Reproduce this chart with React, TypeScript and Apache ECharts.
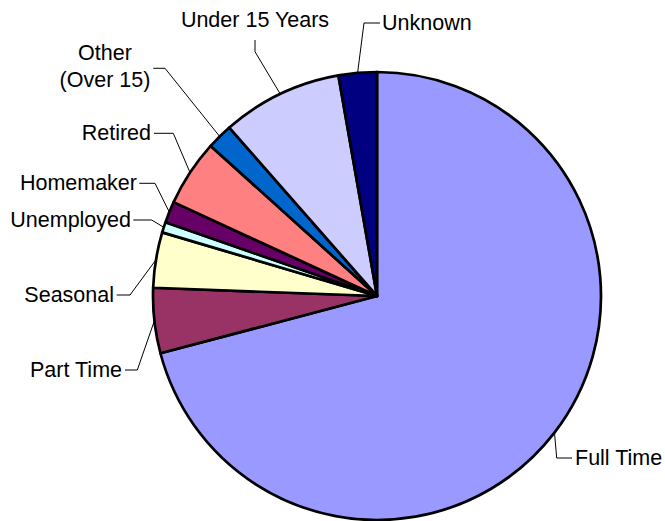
import React, { useEffect, useRef } from "react";
import * as echarts from "echarts";

const categories = [
  "Full Time",
  "Part Time",
  "Seasonal",
  "Unemployed",
  "Homemaker",
  "Retired",
  "Other\n(Over 15)",
  "Under 15 Years",
  "Unknown",
];
const values = [70.9, 4.7, 4.0, 0.75, 1.55, 4.8, 1.86, 8.7, 2.76];
const colors = [
  "#9999FF",
  "#993366",
  "#FFFFCC",
  "#CCFFFF",
  "#660066",
  "#FF8080",
  "#0066CC",
  "#CCCCFF",
  "#000080",
];

// label placement (text anchor + leader-line bend/end), pixel layout
type LP = { tx: number; ty: number; align: string; bend: number[]; end: number[] };
const labelPlacement: LP[] = [
  { tx: 575, ty: 458, align: "left", bend: [556.7, 458], end: [572, 458] },
  { tx: 122, ty: 370, align: "right", bend: [137.3, 370], end: [125, 370] },
  { tx: 114, ty: 295, align: "right", bend: [130, 295], end: [116.7, 295] },
  { tx: 131, ty: 220, align: "right", bend: [151.7, 220], end: [133.3, 220] },
  { tx: 137, ty: 183.3, align: "right", bend: [155, 183.3], end: [139.3, 183.3] },
  { tx: 151, ty: 133.3, align: "right", bend: [173.3, 133.3], end: [154, 133.3] },
  { tx: 105, ty: 66, align: "center", bend: [165, 68.3], end: [153.3, 68.3] },
  { tx: 255, ty: 20, align: "center", bend: [255, 51.7], end: [255, 40] },
  { tx: 382, ty: 23, align: "left", bend: [364, 23], end: [380, 23] },
];

export default function App() {
  const ref = useRef<HTMLDivElement>(null);
  useEffect(() => {
    if (!ref.current) return;
    const chart = echarts.init(ref.current, undefined, { renderer: "svg" });
    chart.setOption({
      animation: false,
      backgroundColor: "#ffffff",
      series: [
        {
          type: "pie",
          center: [377, 296],
          radius: 224,
          startAngle: 90,
          clockwise: true,
          avoidLabelOverlap: false,
          itemStyle: { borderColor: "#000000", borderWidth: 2.7 },
          label: {
            show: true,
            position: "outside",
            color: "#000000",
            fontFamily: "Liberation Sans, Arial, sans-serif",
            fontSize: 21.5,
            lineHeight: 27,
          },
          labelLine: {
            show: true,
            length: 20,
            length2: 10,
            lineStyle: { color: "#000000", width: 1 },
          },
          labelLayout: (params: any) => {
            const lp = labelPlacement[params.dataIndex];
            const p0 = params.labelLinePoints ? params.labelLinePoints[0] : lp.bend;
            return {
              x: lp.tx,
              y: lp.ty,
              align: lp.align,
              verticalAlign: "middle",
              labelLinePoints: [p0, lp.bend, lp.end],
            };
          },
          data: categories.map((name, i) => ({
            name,
            value: values[i],
            itemStyle: { color: colors[i] },
          })),
        },
      ],
    });
    return () => chart.dispose();
  }, []);
  return (
    <div
      ref={ref}
      style={{ position: "fixed", left: 0, top: 0, width: 665, height: 521 }}
    />
  );
}
